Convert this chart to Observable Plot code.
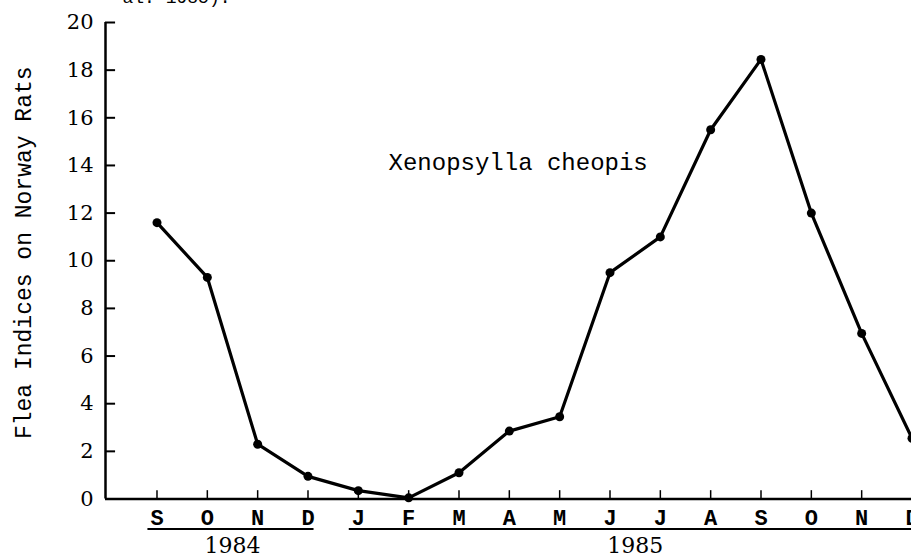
<!DOCTYPE html>
<html><head><meta charset="utf-8">
<script src="https://cdn.jsdelivr.net/npm/d3@7"></script>
<script src="https://cdn.jsdelivr.net/npm/@observablehq/plot@0.6"></script>
<style>html,body{margin:0;padding:0;background:#fff;overflow:hidden}</style>
</head><body><div id="chart"></div>
<script>
const months = ["S","O","N","D","J","F","M","A","M","J","J","A","S","O","N","D"];
const fleaIndex = [11.6, 9.3, 2.3, 0.95, 0.35, 0.05, 1.1, 2.85, 3.45, 9.5, 11.0, 15.5, 18.45, 12.0, 6.95, 2.55];
const years = ["1984", "1985"];
const yearFirstMonth = [0, 4];
const yearLastMonth = [3, 15];
const yTicks = [0, 2, 4, 6, 8, 10, 12, 14, 16, 18, 20];
const seriesLabel = "Xenopsylla cheopis";
const yTitle = "Flea Indices on Norway Rats";
const captionFragment = "al. 1985).";

const data = months.map((m, i) => ({i, month: m, value: fleaIndex[i]}));
const yearRows = years.map((y, k) => ({year: y, from: yearFirstMonth[k], to: yearLastMonth[k]}));

const serif = "DejaVu Serif, serif";
const mono = "Liberation Mono, monospace";
const X0 = -1.023, X1 = 14.99;

const chart = Plot.plot({
  width: 911, height: 556,
  marginLeft: 105, marginRight: 0, marginTop: 22, marginBottom: 57.5,
  x: {domain: [X0, X1], axis: null},
  y: {domain: [0, 20], axis: null},
  style: {background: "white", color: "black"},
  marks: [
    Plot.axisY(yTicks, {anchor: "left", tickSize: 0, tickPadding: 12, fontSize: 21, fontFamily: serif, label: null}),
    Plot.ruleY(yTicks, {x1: X0, x2: X0 + 0.2, strokeWidth: 2}),
    Plot.ruleX(d3.range(months.length), {y1: 0, y2: 0.35, strokeWidth: 1.5}),
    Plot.ruleX([X0], {y1: 0, y2: 20, strokeWidth: 2.5}),
    Plot.ruleY([0], {strokeWidth: 2.5}),
    Plot.text(data, {x: "i", y: 0, text: "month", dy: 10.5, lineAnchor: "top", fontFamily: mono, fontSize: 22, fontWeight: "bold"}),
    Plot.ruleY(yearRows, {y: 0, x1: d => d.from - 0.18, x2: d => d.to + 0.12, dy: 30, strokeWidth: 2}),
    Plot.text(yearRows, {x: d => (d.from + d.to) / 2, y: 0, text: "year", dy: 53.5, lineAnchor: "bottom", fontFamily: serif, fontSize: 22}),
    Plot.line(data, {x: "i", y: "value", strokeWidth: 3.2, stroke: "black"}),
    Plot.dot(data, {x: "i", y: "value", r: 4.5, fill: "black"}),
    Plot.text([seriesLabel], {x: 4.6, y: 13.83, text: d => d, textAnchor: "start", lineAnchor: "bottom", fontFamily: mono, fontSize: 24}),
    Plot.text([yTitle], {frameAnchor: "left", textAnchor: "middle", dx: -82, dy: -8, rotate: -90, text: d => d, fontFamily: mono, fontSize: 23}),
    Plot.text([captionFragment], {frameAnchor: "top-left", dx: 17, dy: -20, textAnchor: "start", lineAnchor: "bottom", fontFamily: mono, fontSize: 18, text: d => d})
  ]
});
document.getElementById("chart").appendChild(chart);
</script>
</body></html>
